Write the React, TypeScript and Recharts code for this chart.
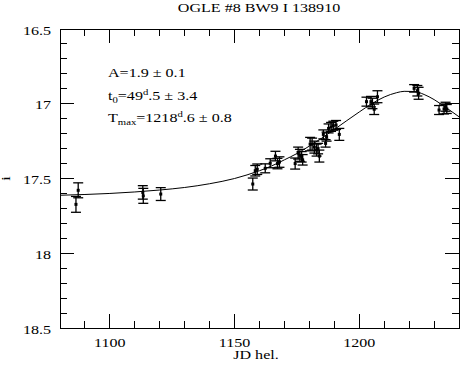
import React from 'react';
import { ComposedChart, XAxis, YAxis, Scatter, Line, ErrorBar, Customized, ReferenceArea } from 'recharts';

const obsT = [1086.4, 1087.3, 1113.2, 1113.4, 1120.4, 1157.3, 1158.3, 1159.1, 1162.3, 1164.3, 1166.4, 1167.2, 1168.0, 1174.3, 1175.5, 1176.2, 1176.9, 1177.3, 1180.3, 1181.1, 1182.0, 1182.9, 1183.5, 1184.0, 1185.6, 1186.5, 1186.9, 1187.7, 1188.7, 1189.6, 1190.7, 1192.0, 1202.9, 1204.7, 1205.3, 1206.0, 1207.3, 1222.0, 1223.3, 1223.8, 1232.0, 1234.0, 1234.6, 1235.1];
const obsMag = [17.673, 17.579, 17.593, 17.616, 17.604, 17.537, 17.448, 17.438, 17.432, 17.398, 17.35, 17.40, 17.39, 17.40, 17.33, 17.345, 17.355, 17.375, 17.27, 17.27, 17.29, 17.31, 17.30, 17.35, 17.205, 17.265, 17.22, 17.165, 17.155, 17.147, 17.142, 17.205, 16.986, 16.986, 16.998, 17.037, 16.953, 16.897, 16.913, 16.93, 17.042, 17.035, 17.02, 17.035];
const obsErr = [0.053, 0.05, 0.045, 0.05, 0.043, 0.04, 0.035, 0.035, 0.03, 0.03, 0.032, 0.035, 0.035, 0.037, 0.04, 0.04, 0.035, 0.035, 0.045, 0.04, 0.04, 0.04, 0.035, 0.04, 0.03, 0.025, 0.03, 0.03, 0.03, 0.03, 0.03, 0.04, 0.03, 0.035, 0.035, 0.035, 0.04, 0.025, 0.035, 0.04, 0.03, 0.033, 0.03, 0.03];

const fitT = [1080, 1090, 1100, 1110, 1120, 1130, 1140, 1150, 1155, 1160, 1165, 1170, 1175, 1180, 1185, 1190, 1195, 1200, 1205, 1210, 1215, 1218, 1222, 1226, 1230, 1235, 1240];
const fitMag = [17.612, 17.607, 17.600, 17.590, 17.577, 17.560, 17.535, 17.500, 17.476, 17.448, 17.415, 17.375, 17.333, 17.283, 17.230, 17.172, 17.113, 17.055, 17.000, 16.955, 16.926, 16.917, 16.918, 16.938, 16.972, 17.028, 17.087];

const xTicks = [1090, 1100, 1110, 1120, 1130, 1140, 1150, 1160, 1170, 1180, 1190, 1200, 1210, 1220, 1230];
const xMajor = [1100, 1150, 1200];
const yTicks = [16.5, 16.6, 16.7, 16.8, 16.9, 17, 17.1, 17.2, 17.3, 17.4, 17.5, 17.6, 17.7, 17.8, 17.9, 18, 18.1, 18.2, 18.3, 18.4, 18.5];
const yMajor = [16.5, 17, 17.5, 18, 18.5];

const title = 'OGLE #8 BW9 I 138910';
const xLabel = 'JD hel.';
const yLabel = 'i';

const obs = obsT.map((t, i) => ({ t, mag: obsMag[i], err: obsErr[i] }));
const fit = fitT.map((t, i) => ({ t, mag: fitMag[i] }));

const FONT = 'Liberation Serif';
const FS = 12;
const SX = 1.34;

const T = ({ x, y, anchor = 'start', rotate = 0, children }: any) => (
  <text
    transform={`translate(${x},${y})${rotate ? ` rotate(${rotate})` : ''} scale(${SX},1)`}
    textAnchor={anchor}
    fontFamily={FONT}
    fontSize={FS}
    fill="#000"
  >
    {children}
  </text>
);

const isIn = (arr: number[], v: number) => arr.some((a) => Math.abs(a - v) < 1e-6);
const px = (v: number) => Math.floor(v);

const BottomTick = (p: any) => {
  const v = p.payload.value;
  const major = isIn(xMajor, v);
  const x = Number(p.x);
  const y = Number(p.y);
  const len = major ? 14 : 7;
  return (
    <g>
      <rect x={px(x)} y={px(y) - len} width={1} height={len} fill="#000" shapeRendering="crispEdges" />
      {major && <T x={x} y={y + 18.5} anchor="middle">{String(v)}</T>}
    </g>
  );
};
const TopTick = (p: any) => {
  const v = p.payload.value;
  const len = isIn(xMajor, v) ? 14 : 7;
  const x = Number(p.x);
  const y = Number(p.y);
  return <rect x={px(x)} y={px(y)} width={1} height={len} fill="#000" shapeRendering="crispEdges" />;
};
const LeftTick = (p: any) => {
  const v = p.payload.value;
  const major = isIn(yMajor, v);
  const x = Number(p.x);
  const y = Number(p.y);
  return (
    <g>
      <rect x={px(x)} y={px(y)} width={major ? 14 : 7} height={1} fill="#000" shapeRendering="crispEdges" />
      {major && <T x={x - 9} y={y + 5.5} anchor="end">{String(v)}</T>}
    </g>
  );
};
const RightTick = (p: any) => {
  const v = p.payload.value;
  const len = isIn(yMajor, v) ? 14 : 7;
  const x = Number(p.x);
  const y = Number(p.y);
  return <rect x={px(x) - len} y={px(y)} width={len} height={1} fill="#000" shapeRendering="crispEdges" />;
};

const Dot = (p: any) => <rect x={p.cx - 1.5} y={p.cy - 1.5} width={3} height={3} fill="#000" />;

const Annotations = () => (
  <g>
    <T x={259} y={12} anchor="middle">{title}</T>
    <T x={256} y={359} anchor="middle">{xLabel}</T>
    <T x={10} y={178.5} anchor="middle" rotate={-90}>{yLabel}</T>
    <T x={108} y={77}>A=1.9 ± 0.1</T>
    <T x={108} y={100}>
      t<tspan fontSize={8} dy={3}>0</tspan>
      <tspan dy={-3}>=49</tspan>
      <tspan fontSize={8} dy={-5}>d</tspan>
      <tspan dy={5}>.5 ± 3.4</tspan>
    </T>
    <T x={108} y={122}>
      T<tspan fontSize={8} dy={3}>max</tspan>
      <tspan dy={-3}>=1218</tspan>
      <tspan fontSize={8} dy={-5}>d</tspan>
      <tspan dy={5}>.6 ± 0.8</tspan>
    </T>
  </g>
);

const axisLine = { stroke: '#000', strokeWidth: 1, shapeRendering: 'crispEdges' } as any;

export default function App() {
  return (
    <div style={{ position: 'absolute', left: 0, top: 0, width: 460, height: 371, background: '#fff' }}>
      <ComposedChart width={460} height={371} margin={{ top: 28, right: 0, bottom: 0, left: 0 }}>
        <XAxis
          xAxisId="bottom"
          orientation="bottom"
          dataKey="t"
          type="number"
          domain={[1080, 1240]}
          ticks={xTicks}
          interval={0}
          height={43}
          tickSize={0}
          tickMargin={0}
          tickLine={false}
          axisLine={axisLine}
          tick={BottomTick}
          allowDataOverflow
        />
        <XAxis
          xAxisId="top"
          orientation="top"
          dataKey="t"
          type="number"
          domain={[1080, 1240]}
          ticks={xTicks}
          interval={0}
          height={1}
          tickSize={0}
          tickMargin={0}
          tickLine={false}
          axisLine={axisLine}
          tick={TopTick}
          allowDataOverflow
        />
        <YAxis
          yAxisId="left"
          orientation="left"
          type="number"
          reversed
          domain={[16.5, 18.5]}
          ticks={yTicks}
          interval={0}
          width={60}
          tickSize={0}
          tickMargin={0}
          tickLine={false}
          axisLine={axisLine}
          tick={LeftTick}
          allowDataOverflow
        />
        <YAxis
          yAxisId="right"
          orientation="right"
          type="number"
          reversed
          domain={[16.5, 18.5]}
          ticks={yTicks}
          interval={0}
          width={1}
          tickSize={0}
          tickMargin={0}
          tickLine={false}
          axisLine={axisLine}
          tick={RightTick}
          allowDataOverflow
        />
        <ReferenceArea
          xAxisId="bottom"
          yAxisId="left"
          x1={1080}
          x2={1240}
          y1={16.5}
          y2={18.5}
          fill="none"
          fillOpacity={0}
          stroke="#000"
          strokeWidth={1}
          shapeRendering="crispEdges"
          ifOverflow="visible"
        />
        <Line xAxisId="bottom" yAxisId="left" data={fit} dataKey="mag" type="monotone" stroke="#000" strokeWidth={1} dot={false} isAnimationActive={false} />
        <Scatter xAxisId="bottom" yAxisId="left" data={obs} dataKey="mag" shape={Dot} isAnimationActive={false}>
          <ErrorBar dataKey="err" direction="y" width={5} stroke="#000" strokeWidth={1.3} />
        </Scatter>
        <Customized component={Annotations} />
      </ComposedChart>
    </div>
  );
}
